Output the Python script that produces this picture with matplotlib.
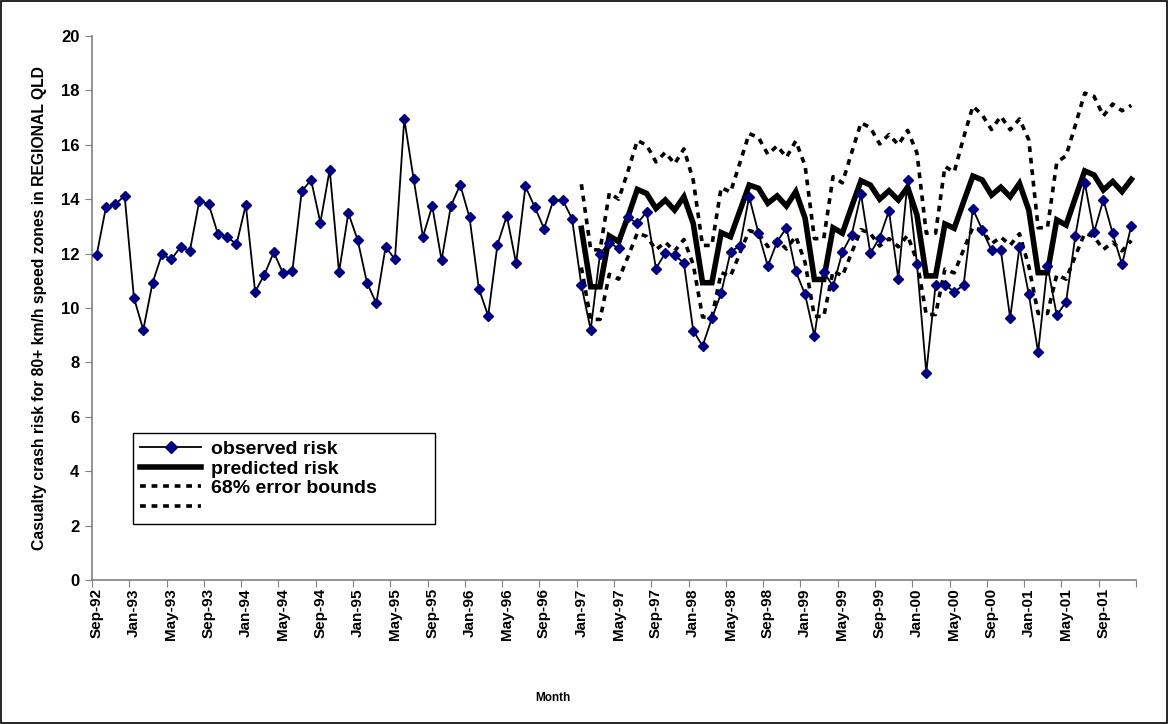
import matplotlib
matplotlib.use("Agg")
import matplotlib.pyplot as plt
import numpy as np
import pandas as pd
from matplotlib.lines import Line2D
from matplotlib.patches import Rectangle

plt.rcParams['font.family'] = ['Liberation Sans', 'DejaVu Sans']

# monthly categories Sep-92 .. Dec-01
months = pd.date_range('1992-09-01', periods=112, freq='MS')
month_labels = [m.strftime('%b-%y') for m in months]

observed = [
    11.95, 13.71, 13.81, 14.13,
    10.37, 9.20, 10.93, 11.97, 11.79, 12.24, 12.10, 13.92, 13.84, 12.73, 12.62, 12.34,
    13.79, 10.60, 11.23, 12.05, 11.27, 11.37, 14.29, 14.71, 13.14, 15.09, 11.32, 13.49,
    12.50, 10.93, 10.17, 12.25, 11.79, 16.95, 14.75, 12.62, 13.75, 11.76, 13.75, 14.53,
    13.33, 10.71, 9.71, 12.33, 13.39, 11.64, 14.47, 13.71, 12.92, 13.96, 13.97, 13.28,
    10.83, 9.20, 12.00, 12.40, 12.19, 13.33, 13.11, 13.53, 11.45, 12.02, 11.95, 11.65,
    9.17, 8.60, 9.62, 10.55, 12.06, 12.29, 14.09, 12.75, 11.54, 12.44, 12.95, 11.35,
    10.50, 8.97, 11.32, 10.80, 12.05, 12.70, 14.18, 12.01, 12.59, 13.57, 11.07, 14.69,
    11.63, 7.62, 10.85, 10.85, 10.60, 10.83, 13.64, 12.88, 12.12, 12.12, 9.63, 12.25,
    10.51, 8.37, 11.56, 9.73, 10.23, 12.66, 14.61, 12.78, 13.98, 12.74, 11.60, 13.03,
]

# predicted risk and 68% bounds, Jan-97 .. Dec-01
predicted = [
    12.93, 10.78, 10.78, 12.65, 12.44, 13.36, 14.36, 14.21, 13.66, 13.97, 13.60, 14.09,
    13.11, 10.93, 10.93, 12.77, 12.62, 13.57, 14.52, 14.40, 13.85, 14.12, 13.75, 14.28,
    13.30, 11.05, 11.05, 12.95, 12.75, 13.73, 14.68, 14.52, 14.00, 14.31, 13.97, 14.44,
    13.42, 11.18, 11.18, 13.09, 12.93, 13.90, 14.85, 14.71, 14.15, 14.44, 14.09, 14.58,
    13.60, 11.30, 11.30, 13.24, 13.05, 14.06, 15.04, 14.89, 14.34, 14.65, 14.28, 14.73,
]
upper = [
    14.55, 12.15, 12.13, 14.23, 14.00, 15.03, 16.16, 15.99, 15.37, 15.72, 15.30, 15.85,
    14.70, 12.30, 12.30, 14.43, 14.26, 15.33, 16.41, 16.27, 15.65, 15.96, 15.54, 16.14,
    15.23, 12.55, 12.55, 14.83, 14.60, 15.72, 16.81, 16.63, 16.03, 16.38, 16.00, 16.53,
    15.70, 12.75, 12.75, 15.20, 15.00, 16.26, 17.42, 17.10, 16.56, 17.05, 16.55, 16.95,
    16.18, 12.95, 12.95, 15.35, 15.60, 16.73, 17.90, 17.78, 17.06, 17.50, 17.25, 17.45,
]
lower = [
    11.49, 9.58, 9.58, 11.24, 11.06, 11.88, 12.76, 12.63, 12.14, 12.42, 12.09, 12.52,
    11.60, 9.67, 9.67, 11.30, 11.17, 12.01, 12.85, 12.74, 12.26, 12.50, 12.17, 12.64,
    11.67, 9.69, 9.69, 11.36, 11.18, 12.04, 12.88, 12.74, 12.28, 12.55, 12.25, 12.67,
    11.72, 9.76, 9.76, 11.43, 11.29, 12.14, 12.97, 12.85, 12.36, 12.61, 12.31, 12.73,
    11.53, 9.80, 9.80, 11.22, 11.06, 11.92, 12.75, 12.62, 12.15, 12.42, 12.10, 12.48,
]

x_obs = np.arange(len(observed))
x_pred = np.arange(len(observed) - len(predicted), len(observed))

fig = plt.figure(figsize=(11.69, 7.24), dpi=100)
ax = fig.add_axes([92 / 1169, 1 - 580 / 724, (1136 - 92) / 1169, (580 - 36) / 724])

dash = (0, (1.6, 1.6))
ax.plot(x_pred, upper, color='black', lw=2.6, linestyle=dash, zorder=2)
ax.plot(x_pred, lower, color='black', lw=2.6, linestyle=dash, zorder=2)
ax.plot(x_pred, predicted, color='black', lw=4, zorder=3, solid_joinstyle='miter')
ax.plot(x_obs, observed, color='black', lw=1.3, marker='D', markersize=5.5,
        markerfacecolor='#000080', markeredgecolor='#000080', zorder=4)

ax.set_xlim(-0.5, len(observed) - 0.5)
ax.set_ylim(0, 20)
ax.set_yticks(np.arange(0, 21, 2))
ax.set_yticklabels([str(v) for v in range(0, 21, 2)], fontsize=12, fontweight='bold')

ax.set_xticks(np.arange(-0.5, len(observed), 4))
ax.set_xticklabels([])
ax.set_xticks(np.arange(0, len(observed), 4), minor=True)
ax.set_xticklabels(month_labels[::4], minor=True, rotation=90,
                   fontsize=11, fontweight='bold')
ax.tick_params(axis='x', which='minor', length=0, pad=6)
ax.tick_params(axis='x', which='major', length=5, color='#808080')
ax.tick_params(axis='y', length=5, color='#808080', pad=4)

for s in ['top', 'right']:
    ax.spines[s].set_visible(False)
for s in ['left', 'bottom']:
    ax.spines[s].set_color('#808080')
    ax.spines[s].set_linewidth(1.2)

ax.set_ylabel('Casualty crash risk for 80+ km/h speed zones in REGIONAL QLD',
              fontsize=11.3, fontweight='bold', labelpad=10)
fig.text(553 / 1169, 1 - 698 / 724, 'Month', fontsize=8.5, fontweight='bold',
         ha='center', va='center')

handles = [
    Line2D([], [], color='black', lw=1.3, marker='D', markersize=6,
           markerfacecolor='#000080', markeredgecolor='#000080'),
    Line2D([], [], color='black', lw=4),
    Line2D([], [], color='black', lw=2.6, linestyle=dash),
    Line2D([], [], color='black', lw=2.6, linestyle=dash),
]
labels = ['observed risk', 'predicted risk', '68% error bounds', '']
# legend box spans roughly x 133..435 from y 430 in the reference
leg = ax.legend(handles, labels, loc='upper left', mode='expand',
                bbox_to_anchor=(133 / 1169, 1 - 517 / 724, 302 / 1169, 84 / 724),
                bbox_transform=fig.transFigure,
                prop={'weight': 'bold', 'size': 14}, fancybox=False, framealpha=1,
                edgecolor='black', handlelength=3.1, labelspacing=0.1,
                borderpad=0.38, handletextpad=0.55, borderaxespad=0)
leg.get_frame().set_linewidth(1.0)

fig.patches.append(Rectangle((0.0005, 0.0007), 0.998, 0.998, transform=fig.transFigure,
                             fill=False, edgecolor='black', lw=1.2))

fig.savefig('out.png', dpi=100)
